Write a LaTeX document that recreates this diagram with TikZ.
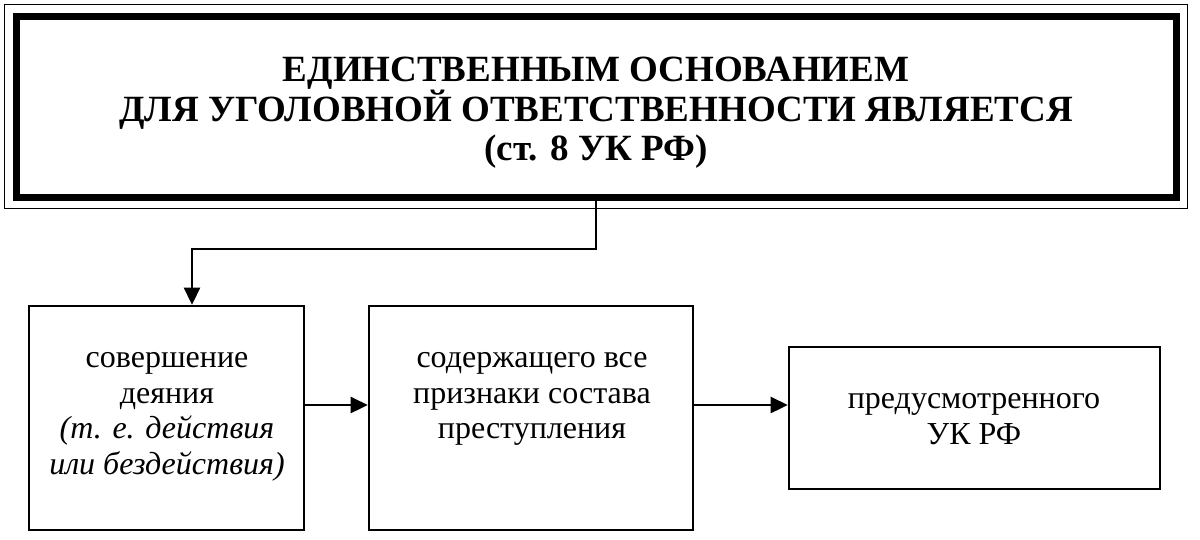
\documentclass[tikz,border=0pt]{standalone}
\usepackage{fontspec}
\setmainfont{Liberation Serif}
\usetikzlibrary{arrows.meta}
\begin{document}
\begin{tikzpicture}[x=1pt,y=-1pt,
  box/.style={draw,line width=2.6pt,inner sep=0pt},
  conn/.style={line width=2.6pt,-{Triangle[length=17pt,width=16pt]}},
  txt/.style={align=center,font=\fontsize{32}{35.5}\selectfont,inner sep=0pt},
  ttl/.style={align=center,font=\bfseries\fontsize{37}{39}\selectfont,inner sep=0pt}]
\useasboundingbox (0,0) rectangle (1200,539);
% title box
\node[draw,line width=7pt,inner sep=0pt,minimum width=1160pt,minimum height=181pt] (top) at (596,106.5) {};
\draw[line width=1.6pt] ([shift={(-8,-8)}]top.north west) rectangle ([shift={(8,8)}]top.south east);
\node[ttl] (title) at ([yshift=-6pt]top.center) {ЕДИНСТВЕННЫМ ОСНОВАНИЕМ\\ДЛЯ УГОЛОВНОЙ ОТВЕТСТВЕННОСТИ ЯВЛЯЕТСЯ\\(ст. 8 УК РФ)};
% boxes
\node[box,minimum width=275pt,minimum height=224pt] (b1) at (166.5,418) {};
\node[box,minimum width=324pt,minimum height=224pt] (b2) at (531,418) {};
\node[box,minimum width=371pt,minimum height=142pt] (b3) at (974.5,418) {};
\node[txt] (t1) at (167,417) {совершение\\деяния\\\textit{(т. е. действия}\\\textit{или бездействия)}};
\node[txt] (t2) at (532,399) {содержащего все\\признаки состава\\преступления};
\node[txt] (t3) at (974,419) {предусмотренного\\УК РФ};
% connectors
\coordinate (bend) at (192,249);
\draw[conn] (top.south) |- (bend) -- (bend |- b1.north);
\draw[conn] ([yshift=13pt]b1.east) -- ([yshift=13pt]b2.west);
\draw[conn] ([yshift=13pt]b2.east) -- ([yshift=13pt]b3.west);
\end{tikzpicture}
\end{document}
